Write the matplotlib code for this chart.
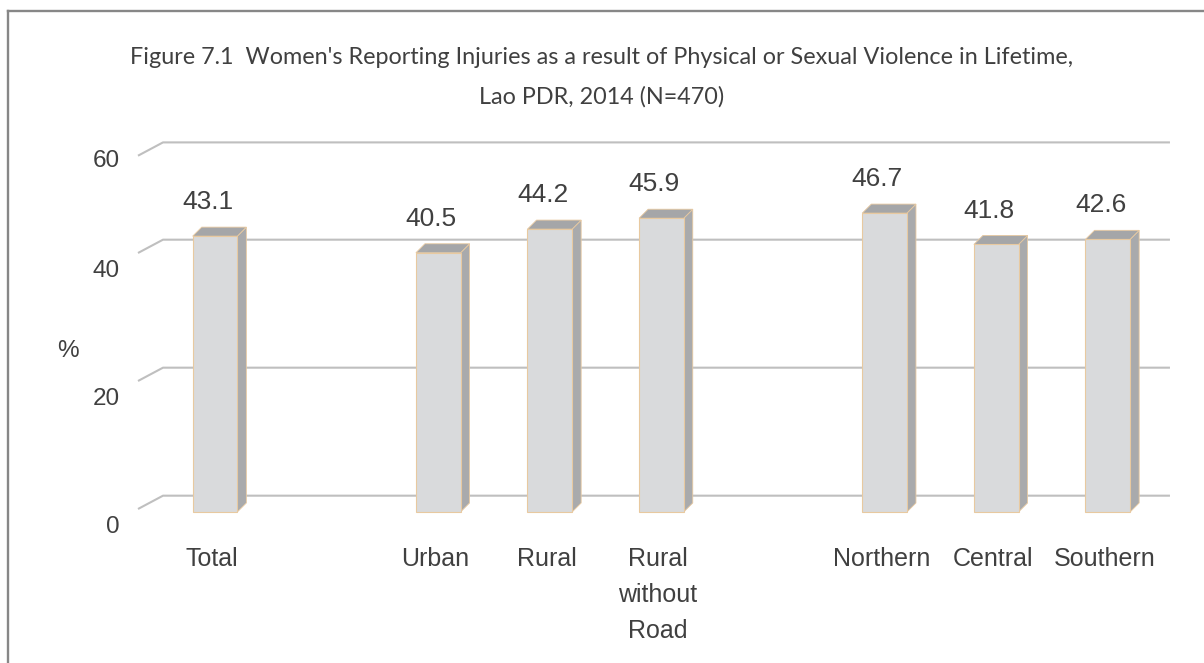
import matplotlib
matplotlib.use("Agg")
import matplotlib.pyplot as plt
from matplotlib.patches import Polygon
from matplotlib.lines import Line2D

# Data
categories = ["Total", "Urban", "Rural", "Rural\nwithout\nRoad", "Northern", "Central", "Southern"]
slots = [0, 2, 3, 4, 6, 7, 8]          # slot 1 and 5 are left empty as group separators
values = [43.1, 40.5, 44.2, 45.9, 46.7, 41.8, 42.6]
tick_labels = ["0", "20", "40", "60"]
title_lines = ["Figure 7.1  Women's Reporting Injuries as a result of Physical or Sexual Violence in Lifetime,",
               "Lao PDR, 2014 (N=470)"]
y_label = "%"

# Styling / layout
W, H, DPI = 1204, 663, 100
text_color = "#404040"
grid_color = "#bfbfbf"
front_color = "#d9dadc"
side_color = "#a9aaac"
top_color = "#a5a6a8"
edge_color = "#e8c9a0"
sans = ["Liberation Sans", "DejaVu Sans"]

# heights of the wall lines (the top line is the wall's upper edge)
grid_levels = [0, 20, 40, 55.2]
label_drop = [3.3, 3.3, 3.3, 1.3]

bar_width = 0.40
bar_dx, bar_dy = 0.081, 1.41          # bar depth offset
wall_back_dy = 2.55                   # back wall offset (value units)
wall_front_dy = 0.47
wall_back_x0, wall_back_x1 = -0.466, 8.557
wall_front_x0 = -0.69

fig = plt.figure(figsize=(W / DPI, H / DPI), dpi=DPI)
fig.patch.set_facecolor("white")
ax = fig.add_axes([0, 0, 1, 1])
ax.set_xlim((0 - 215) / 111.6, (W - 215) / 111.6)
ax.set_ylim((512 - H) / 6.4, 512 / 6.4)
ax.axis("off")

# Back wall gridlines with their depth slants
for v in grid_levels:
    ax.plot([wall_front_x0, wall_back_x0, wall_back_x1],
            [v + wall_front_dy, v + wall_back_dy, v + wall_back_dy],
            color=grid_color, lw=1.5, solid_capstyle="butt", zorder=1)

# Axis tick labels
for v, drop, lab in zip(grid_levels, label_drop, tick_labels):
    ax.text(-0.851, v - drop, lab, ha="right", va="baseline", fontsize=17.5,
            color=text_color, family=sans)
ax.text(-1.317, 24.2, y_label, ha="center", va="baseline", fontsize=17.5,
        color=text_color, family=sans)

# Pseudo-3D bars
for x, v, cat in zip(slots, values, categories):
    l, r = x - bar_width / 2, x + bar_width / 2
    side = Polygon([(r, 0), (r + bar_dx, bar_dy), (r + bar_dx, v + bar_dy), (r, v)],
                   closed=True, facecolor=side_color, edgecolor=edge_color, lw=0.6, zorder=3)
    top = Polygon([(l, v), (r, v), (r + bar_dx, v + bar_dy), (l + bar_dx, v + bar_dy)],
                  closed=True, facecolor=top_color, edgecolor=edge_color, lw=0.6, zorder=3)
    front = Polygon([(l, 0), (r, 0), (r, v), (l, v)],
                    closed=True, facecolor=front_color, edgecolor=edge_color, lw=0.8, zorder=4)
    for p in (side, top, front):
        ax.add_patch(p)
    ax.text(x - 0.065, v + 4.2, f"{v:.1f}", ha="center", va="baseline", fontsize=19,
            color=text_color, family=sans, zorder=5)
    ax.text(x - 0.03, -5.4, cat, ha="center", va="top", fontsize=18,
            color=text_color, family=sans, linespacing=1.65)

# Title (two centred lines)
for i, line in enumerate(title_lines):
    fig.text(0.5, 1 - (57 + 40 * i) / H, line, ha="center", va="center", fontsize=16.8,
             color=text_color, family=["Lato", "DejaVu Sans"])

# Chart frame (continues past the right and bottom edges)
frame_kw = dict(color="#878787", lw=1.7, transform=fig.transFigure)
fig.add_artist(Line2D([8.3 / W, 8.3 / W], [1 - 10.5 / H, -0.05], **frame_kw))
fig.add_artist(Line2D([8.3 / W, 1.05], [1 - 10.5 / H, 1 - 10.5 / H], **frame_kw))

fig.savefig("out.png", dpi=DPI, facecolor="white")
